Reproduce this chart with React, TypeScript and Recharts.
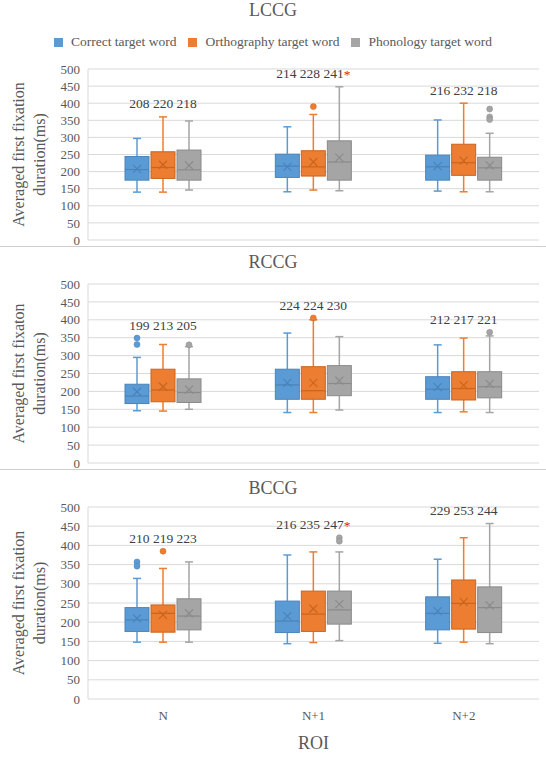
import React from "react"
import { ComposedChart, Bar, XAxis, YAxis, CartesianGrid, Label } from "recharts"

// ROI categories along the x axis
const categories = ["N", "N+1", "N+2"]

const seriesKeys = ["correct", "ortho", "phono"]
const seriesNames = ["Correct target word", "Orthography target word", "Phonology target word"]
const seriesFill = ["#5B9BD5", "#ED7D31", "#A5A5A5"]
const seriesEdge = ["#4A83B9", "#C9651F", "#8A8A8A"]

const yTicks = [0, 50, 100, 150, 200, 250, 300, 350, 400, 450, 500]

// five-number summaries per ROI: [min, q1, median, q3, max]
const lccgCorrect = [[140, 175, 206, 244, 297], [141, 183, 216, 251, 331], [143, 175, 214, 248, 351]]
const lccgOrtho = [[140, 180, 212, 258, 360], [146, 187, 214, 261, 367], [141, 189, 226, 280, 400]]
const lccgPhono = [[146, 175, 205, 263, 348], [144, 175, 228, 290, 448], [141, 175, 211, 242, 312]]
const lccgCorrectOut = [[], [], []]
const lccgOrthoOut = [[], [390], []]
const lccgPhonoOut = [[], [], [383, 360, 352]]
const lccgMeans = [[208, 220, 218], [214, 228, 241], [216, 232, 218]]
const lccgStar = [false, true, false]

const rccgCorrect = [[146, 166, 187, 220, 295], [141, 178, 218, 262, 363], [141, 178, 206, 241, 330]]
const rccgOrtho = [[145, 171, 204, 262, 331], [141, 178, 202, 269, 400], [143, 176, 208, 255, 349]]
const rccgPhono = [[150, 169, 197, 235, 325], [148, 188, 222, 272, 353], [141, 182, 213, 255, 355]]
const rccgCorrectOut = [[349, 331], [], []]
const rccgOrthoOut = [[], [405], []]
const rccgPhonoOut = [[330], [], [365]]
const rccgMeans = [[199, 213, 205], [224, 224, 230], [212, 217, 221]]
const rccgStar = [false, false, false]

const bccgCorrect = [[148, 176, 206, 238, 314], [144, 173, 203, 255, 375], [145, 180, 223, 266, 364]]
const bccgOrtho = [[148, 174, 223, 245, 340], [147, 176, 221, 281, 383], [148, 182, 249, 310, 420]]
const bccgPhono = [[148, 180, 216, 261, 357], [152, 195, 232, 281, 383], [144, 173, 238, 292, 457]]
const bccgCorrectOut = [[357, 346], [], []]
const bccgOrthoOut = [[385], [], []]
const bccgPhonoOut = [[], [420, 411], []]
const bccgMeans = [[210, 219, 223], [216, 235, 247], [229, 253, 244]]
const bccgStar = [false, true, false]

const FONT = "Liberation Serif"

function buildRows(boxes: number[][][], outs: number[][][], means: number[][], stars: boolean[]) {
  return categories.map((cat, i) => {
    const row: any = { cat, means: means[i], star: stars[i] }
    let top = 0
    seriesKeys.forEach((k, s) => {
      const [min, q1, med, q3, max] = boxes[s][i]
      row[k] = [q1, q3]
      row[k + "Stats"] = { min, q1, med, q3, max, mean: means[i][s], out: outs[s][i] }
      top = Math.max(top, max, ...outs[s][i])
    })
    row.top = top
    return row
  })
}

const lccgRows = buildRows([lccgCorrect, lccgOrtho, lccgPhono], [lccgCorrectOut, lccgOrthoOut, lccgPhonoOut], lccgMeans, lccgStar)
const rccgRows = buildRows([rccgCorrect, rccgOrtho, rccgPhono], [rccgCorrectOut, rccgOrthoOut, rccgPhonoOut], rccgMeans, rccgStar)
const bccgRows = buildRows([bccgCorrect, bccgOrtho, bccgPhono], [bccgCorrectOut, bccgOrthoOut, bccgPhonoOut], bccgMeans, bccgStar)

// box + whiskers drawn from the q1..q3 bar that recharts lays out
function makeBoxShape(key: string, fill: string, edge: string, withLabel: boolean) {
  return (props: any) => {
    const { x, y, width, height, payload } = props
    const s = payload[key + "Stats"]
    const top = Math.min(y, y + height)
    const bottom = Math.max(y, y + height)
    const ppu = (bottom - top) / (s.q3 - s.q1)
    const toY = (v: number) => bottom - (v - s.q1) * ppu
    const cx = x + width / 2
    const cap = 4
    const my = toY(s.mean)
    return (
      <g>
        <line x1={cx} x2={cx} y1={toY(s.max)} y2={top} stroke={fill} strokeWidth={1.5} />
        <line x1={cx} x2={cx} y1={bottom} y2={toY(s.min)} stroke={fill} strokeWidth={1.5} />
        <line x1={cx - cap} x2={cx + cap} y1={toY(s.max)} y2={toY(s.max)} stroke={fill} strokeWidth={1.5} />
        <line x1={cx - cap} x2={cx + cap} y1={toY(s.min)} y2={toY(s.min)} stroke={fill} strokeWidth={1.5} />
        <rect x={x} y={top} width={width} height={bottom - top} fill={fill} stroke={edge} strokeWidth={1} />
        <line x1={x} x2={x + width} y1={toY(s.med)} y2={toY(s.med)} stroke={edge} strokeWidth={1.2} />
        <line x1={cx - 4} x2={cx + 4} y1={my - 4} y2={my + 4} stroke={edge} strokeWidth={1.2} />
        <line x1={cx - 4} x2={cx + 4} y1={my + 4} y2={my - 4} stroke={edge} strokeWidth={1.2} />
        {s.out.map((v: number, i: number) => (
          <circle key={i} cx={cx} cy={toY(v)} r={3} fill={fill} stroke={edge} strokeWidth={0.5} />
        ))}
        {withLabel && (
          <text x={cx} y={toY(payload.top) - 13} textAnchor="middle" dominantBaseline="central"
            fontSize={13.5} fill="#404040" fontFamily={FONT}>
            {payload.means.join(" ")}
            {payload.star && <tspan fill="#E02020">*</tspan>}
          </text>
        )}
      </g>
    )
  }
}

function yTitle(lines: string[], cy: number) {
  return () => (
    <g>
      {lines.map((t, i) => {
        const tx = 18 + i * 21
        return (
          <text key={i} x={tx} y={cy} transform={`rotate(-90 ${tx} ${cy})`} textAnchor="middle"
            dominantBaseline="central" fontSize={16} fill="#595959" fontFamily={FONT}>
            {t}
          </text>
        )
      })}
    </g>
  )
}

interface PanelProps {
  rows: any[]
  top: number
  height: number
  marginTop: number
  plotHeight: number
  yLines: string[]
  showX?: boolean
}

function Panel({ rows, top, height, marginTop, plotHeight, yLines, showX }: PanelProps) {
  const bottomMargin = showX ? 0 : height - marginTop - plotHeight
  return (
    <div style={{ position: "absolute", left: 0, top }}>
      <ComposedChart width={546} height={height} data={rows} barGap={2}
        style={{ fontFamily: FONT }}
        margin={{ top: marginTop, right: 7, bottom: bottomMargin, left: 0 }}>
        <CartesianGrid vertical={false} stroke="#d9d9d9" />
        {showX ? (
          <XAxis dataKey="cat" axisLine={false} tickLine={false} tickMargin={6}
            height={height - marginTop - plotHeight}
            tick={{ fill: "#595959", fontSize: 13, fontFamily: FONT }}>
            <Label content={(p: any) => (
              <text x={p.viewBox.x + p.viewBox.width / 2} y={p.viewBox.y + 44} textAnchor="middle"
                dominantBaseline="central" fontSize={18} fill="#595959" fontFamily={FONT}>ROI</text>
            )} />
          </XAxis>
        ) : (
          <XAxis dataKey="cat" hide />
        )}
        <YAxis domain={[0, 500]} ticks={yTicks} interval={0} width={88} tickLine={false}
          axisLine={{ stroke: "#d9d9d9" }} tick={{ fill: "#595959", fontSize: 13, fontFamily: FONT }}>
          <Label content={yTitle(yLines, marginTop + plotHeight / 2)} />
        </YAxis>
        {seriesKeys.map((k, i) => (
          <Bar key={k} dataKey={k} name={seriesNames[i]} barSize={24} isAnimationActive={false}
            shape={makeBoxShape(k, seriesFill[i], seriesEdge[i], i === 1)} />
        ))}
      </ComposedChart>
    </div>
  )
}

const titleStyle: React.CSSProperties = {
  position: "absolute", left: 0, width: 546, textAlign: "center",
  fontSize: 18, lineHeight: "20px", color: "#595959",
}

export default function App() {
  return (
    <div style={{ position: "absolute", left: 0, top: 0, width: 546, height: 776, background: "#fff", fontFamily: FONT, overflow: "hidden" }}>
      <Panel rows={lccgRows} top={0} height={256} marginTop={69} plotHeight={171}
        yLines={["Averaged first fixation", "duration(ms)"]} />
      <Panel rows={rccgRows} top={246} height={234} marginTop={38} plotHeight={179}
        yLines={["Averaged first fixaton", "duration(ms)"]} />
      <Panel rows={bccgRows} top={470} height={306} marginTop={37} plotHeight={192} showX
        yLines={["Averaged first fixation", "duration(ms)"]} />

      <div style={{ ...titleStyle, top: 0 }}>LCCG</div>
      <div style={{ ...titleStyle, top: 252 }}>RCCG</div>
      <div style={{ ...titleStyle, top: 478 }}>BCCG</div>

      <div style={{ position: "absolute", left: 54, top: 34, display: "flex", alignItems: "center", fontSize: 13.5, lineHeight: "16px", color: "#595959" }}>
        {seriesNames.map((n, i) => (
          <div key={n} style={{ display: "flex", alignItems: "center", marginRight: 12 }}>
            <span style={{ width: 9, height: 9, background: seriesFill[i], marginRight: 8, display: "inline-block" }} />
            <span>{n}</span>
          </div>
        ))}
      </div>

      <div style={{ position: "absolute", left: 0, top: 246, width: 546, height: 1, background: "#cfcfcf" }} />
      <div style={{ position: "absolute", left: 0, top: 469, width: 546, height: 1, background: "#cfcfcf" }} />
    </div>
  )
}
